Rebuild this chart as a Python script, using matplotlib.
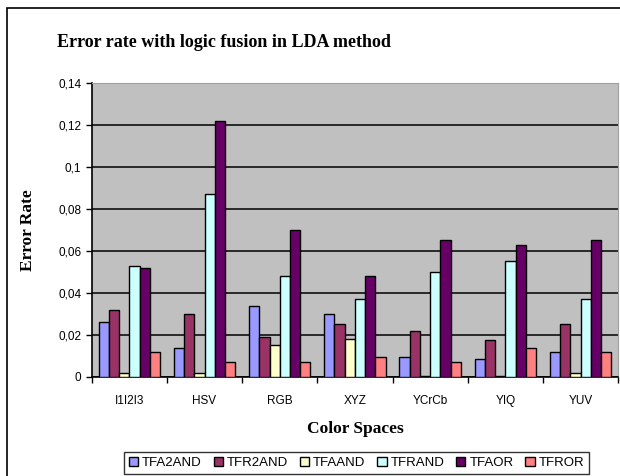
import matplotlib.pyplot as plt
import matplotlib.patches as mpatches
import matplotlib.ticker as mticker
import numpy as np

spaces = ['I1I2I3', 'HSV', 'RGB', 'XYZ', 'YCrCb', 'YIQ', 'YUV']
methods = ['TFA2AND', 'TFR2AND', 'TFAAND', 'TFRAND', 'TFAOR', 'TFROR']
tfa2and = [0.026, 0.014, 0.034, 0.030, 0.0095, 0.0085, 0.012]
tfr2and = [0.032, 0.030, 0.019, 0.025, 0.022, 0.0175, 0.025]
tfaand = [0.002, 0.002, 0.015, 0.018, 0.0005, 0.0005, 0.002]
tfrand = [0.053, 0.087, 0.048, 0.037, 0.050, 0.055, 0.037]
tfaor = [0.052, 0.122, 0.070, 0.048, 0.065, 0.063, 0.065]
tfror = [0.012, 0.007, 0.007, 0.0095, 0.007, 0.014, 0.012]
colors = ['#9999FF', '#993366', '#FFFFCC', '#CCFFFF', '#660066', '#FF8080']

series = [tfa2and, tfr2and, tfaand, tfrand, tfaor, tfror]

fig = plt.figure(figsize=(6.2, 4.76), dpi=100)
ax = fig.add_axes([0.148, 0.208, 0.849, 0.618])

# outer chart frame
fig.patches.append(mpatches.Rectangle((7/620, -0.05), 1.1, 1 - 8/476 + 0.05,
                                      transform=fig.transFigure, fill=False,
                                      edgecolor='black', linewidth=1.2))

x = np.arange(len(spaces))
w = 0.136
for i in range(len(series)):
    ax.bar(x + (i - 2.5) * w, series[i], w, color=colors[i], edgecolor='black',
           linewidth=1, label=methods[i], zorder=3)

ax.set_facecolor('#C0C0C0')
ax.set_xlim(-0.5, 6.5)
ax.set_ylim(0, 0.14)
ax.set_yticks(np.arange(0, 0.141, 0.02))
ax.yaxis.set_major_formatter(mticker.FuncFormatter(
    lambda v, p: '0' if v == 0 else ('%g' % round(v, 2)).replace('.', ',')))
ax.grid(axis='y', color='black', linewidth=1.1, zorder=1)
ax.set_xticks(x)
ax.set_xticklabels(spaces, fontsize=8.5, family='Liberation Sans')
ax.set_xticks(np.arange(-0.5, 6.6, 1), minor=True)
ax.tick_params(axis='x', which='major', length=0, pad=13)
ax.tick_params(axis='x', which='minor', length=4, direction='out', width=1)
ax.tick_params(axis='y', length=4, direction='out', width=1, labelsize=8.5)
for lab in ax.get_yticklabels():
    lab.set_family('Liberation Sans')
for s in ['top', 'right']:
    ax.spines[s].set_color('#A0A0A0')
for s in ['left', 'bottom']:
    ax.spines[s].set_linewidth(1.2)

fig.text(0.361, 0.91, 'Error rate with logic fusion in LDA method',
         ha='center', va='center', fontsize=13, fontweight='bold', family='Liberation Serif')
ax.set_xlabel('Color Spaces', fontsize=12.5, fontweight='bold', family='Liberation Serif', labelpad=10)
ax.set_ylabel('Error Rate', fontsize=12.5, fontweight='bold', family='Liberation Serif', labelpad=16)

leg = fig.legend(loc='center', bbox_to_anchor=(0.575, 0.027), ncol=6,
                 frameon=True, fancybox=False, edgecolor='black', handlelength=0.7,
                 handleheight=0.7, handletextpad=0.3, columnspacing=0.9,
                 borderpad=0.35, borderaxespad=0,
                 prop={'family': 'Liberation Sans', 'size': 9.5})
leg.get_frame().set_linewidth(1)

fig.savefig('out.png', dpi=100)
